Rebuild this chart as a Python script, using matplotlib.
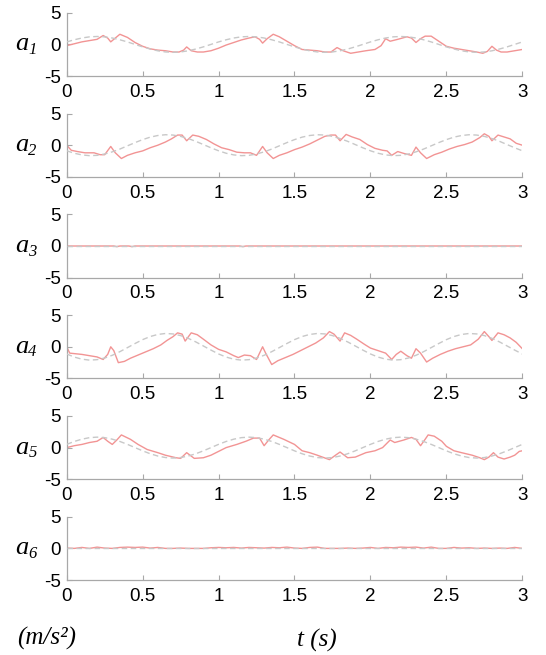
"""
Six acceleration components a1..a6 over t = 0..3 s:
measured signal (light red) vs reference (grey dashed).
"""

import matplotlib

matplotlib.use("Agg")
import matplotlib.pyplot as plt
import numpy as np

plt.rcParams["axes.unicode_minus"] = False
plt.rcParams["font.family"] = ["Liberation Sans", "DejaVu Sans"]

# ---------------------------------------------------------------- data
x_ticks = [0, 0.5, 1, 1.5, 2, 2.5, 3]
x_tick_labels = ["0", "0.5", "1", "1.5", "2", "2.5", "3"]
y_ticks = [-5, 0, 5]
y_tick_labels = ["-5", "0", "5"]
panel_labels = ["1", "2", "3", "4", "5", "6"]

# reference curves, sampled every 0.05 s
ref_t = np.arange(61) * 0.05

ref_a1 = [
    0.39, 0.73, 1.01, 1.19, 1.25, 1.19, 1.01, 0.73, 0.39, 0.0,
    -0.39, -0.73, -1.01, -1.19, -1.25, -1.19, -1.01, -0.73, -0.39, 0.0,
    0.39, 0.73, 1.01, 1.19, 1.25, 1.19, 1.01, 0.73, 0.39, 0.0,
    -0.39, -0.73, -1.01, -1.19, -1.25, -1.19, -1.01, -0.73, -0.39, 0.0,
    0.39, 0.73, 1.01, 1.19, 1.25, 1.19, 1.01, 0.73, 0.39, 0.0,
    -0.39, -0.73, -1.01, -1.19, -1.25, -1.19, -1.01, -0.73, -0.39, 0.0,
    0.39,
]
ref_a2 = [
    -0.88, -1.27, -1.53, -1.65, -1.60, -1.39, -1.05, -0.61, -0.10, 0.41,
    0.88, 1.27, 1.53, 1.65, 1.60, 1.39, 1.05, 0.61, 0.10, -0.41,
    -0.88, -1.27, -1.53, -1.65, -1.60, -1.39, -1.05, -0.61, -0.10, 0.41,
    0.88, 1.27, 1.53, 1.65, 1.60, 1.39, 1.05, 0.61, 0.10, -0.41,
    -0.88, -1.27, -1.53, -1.65, -1.60, -1.39, -1.05, -0.61, -0.10, 0.41,
    0.88, 1.27, 1.53, 1.65, 1.60, 1.39, 1.05, 0.61, 0.10, -0.41,
    -0.88,
]
ref_a3 = [0.0] * 61
ref_a4 = [
    -1.13, -1.62, -1.95, -2.10, -2.03, -1.77, -1.34, -0.77, -0.13, 0.52,
    1.13, 1.62, 1.95, 2.10, 2.03, 1.77, 1.34, 0.77, 0.13, -0.52,
    -1.13, -1.62, -1.95, -2.10, -2.03, -1.77, -1.34, -0.77, -0.13, 0.52,
    1.13, 1.62, 1.95, 2.10, 2.03, 1.77, 1.34, 0.77, 0.13, -0.52,
    -1.13, -1.62, -1.95, -2.10, -2.03, -1.77, -1.34, -0.77, -0.13, 0.52,
    1.13, 1.62, 1.95, 2.10, 2.03, 1.77, 1.34, 0.77, 0.13, -0.52,
    -1.13,
]
ref_a5 = [
    0.51, 0.97, 1.33, 1.57, 1.65, 1.57, 1.33, 0.97, 0.51, 0.0,
    -0.51, -0.97, -1.33, -1.57, -1.65, -1.57, -1.33, -0.97, -0.51, 0.0,
    0.51, 0.97, 1.33, 1.57, 1.65, 1.57, 1.33, 0.97, 0.51, 0.0,
    -0.51, -0.97, -1.33, -1.57, -1.65, -1.57, -1.33, -0.97, -0.51, 0.0,
    0.51, 0.97, 1.33, 1.57, 1.65, 1.57, 1.33, 0.97, 0.51, 0.0,
    -0.51, -0.97, -1.33, -1.57, -1.65, -1.57, -1.33, -0.97, -0.51, 0.0,
    0.51,
]
ref_a6 = [0.0] * 61

# measured signals, read at the break points of each trace
t_a1 = [
    0, 0.05, 0.1, 0.15, 0.2, 0.24, 0.27, 0.29, 0.32, 0.35,
    0.4, 0.45, 0.5, 0.55, 0.6, 0.65, 0.7, 0.74, 0.77, 0.79,
    0.82, 0.86, 0.9, 0.95, 1.0, 1.05, 1.1, 1.15, 1.2, 1.24,
    1.27, 1.29, 1.32, 1.36, 1.4, 1.45, 1.5, 1.55, 1.6, 1.65,
    1.7, 1.74, 1.78, 1.82, 1.87, 1.92, 1.97, 2.03, 2.07, 2.1,
    2.13, 2.18, 2.24, 2.27, 2.3, 2.33, 2.36, 2.4, 2.45, 2.5,
    2.55, 2.6, 2.65, 2.7, 2.74, 2.77, 2.8, 2.83, 2.86, 2.9,
    2.95, 3.0,
]
v_a1 = [
    -0.2, 0.1, 0.4, 0.6, 0.8, 1.4, 1.0, 0.4, 1.0, 1.6,
    1.1, 0.3, -0.3, -0.7, -0.9, -1.0, -1.2, -1.2, -0.9, -0.4,
    -1.0, -1.2, -1.2, -1.0, -0.6, -0.1, 0.3, 0.7, 1.0, 1.2,
    0.8, 0.2, 0.9, 1.6, 1.2, 0.5, -0.2, -0.8, -0.9, -1.0,
    -1.2, -1.2, -0.5, -1.0, -1.4, -1.2, -1.0, -0.8, -0.2, 0.9,
    0.5, 0.8, 1.2, 1.0, 0.3, 0.9, 1.3, 1.3, 0.5, -0.3,
    -0.6, -0.8, -1.0, -1.2, -1.4, -1.1, -0.3, -0.9, -1.2, -1.2,
    -1.0, -0.8,
]

t_a2 = [
    0, 0.03, 0.07, 0.12, 0.18, 0.22, 0.25, 0.29, 0.32, 0.36,
    0.4, 0.45, 0.5, 0.55, 0.6, 0.65, 0.69, 0.73, 0.76, 0.79,
    0.83, 0.87, 0.92, 0.97, 1.02, 1.07, 1.12, 1.17, 1.21, 1.25,
    1.29, 1.32, 1.36, 1.4, 1.45, 1.5, 1.55, 1.6, 1.65, 1.7,
    1.74, 1.77, 1.8, 1.84, 1.88, 1.93, 1.98, 2.03, 2.08, 2.11,
    2.14, 2.18, 2.22, 2.27, 2.3, 2.33, 2.37, 2.42, 2.47, 2.52,
    2.57, 2.62, 2.67, 2.72, 2.75, 2.78, 2.8, 2.84, 2.88, 2.92,
    2.96, 3.0,
]
v_a2 = [
    0.0, -0.8, -1.0, -1.2, -1.2, -1.5, -1.5, -0.2, -1.2, -2.1,
    -1.6, -1.2, -0.9, -0.4, 0.0, 0.5, 1.0, 1.6, 1.6, 0.7,
    1.6, 1.4, 0.9, 0.2, -0.4, -0.7, -1.1, -1.2, -1.2, -1.6,
    -0.2, -1.2, -2.1, -1.6, -1.2, -0.7, -0.3, 0.2, 0.8, 1.4,
    1.6, 1.6, 0.7, 1.7, 1.3, 0.9, 0.1, -0.5, -0.8, -0.9,
    -1.6, -1.0, -1.3, -1.6, -0.3, -1.2, -2.1, -1.5, -1.1, -0.6,
    -0.2, 0.1, 0.5, 1.2, 1.8, 1.4, 0.7, 1.6, 1.3, 1.0,
    0.3, 0.0,
]

t_a3 = [0, 0.31, 0.33, 0.35, 0.41, 0.43, 0.45, 1.14, 1.16, 1.18, 3.0]
v_a3 = [0.0, 0.0, -0.1, 0.0, 0.0, -0.1, 0.0, 0.0, -0.1, 0.0, 0.0]

t_a4 = [
    0, 0.02, 0.06, 0.1, 0.15, 0.2, 0.24, 0.27, 0.29, 0.31,
    0.34, 0.38, 0.42, 0.47, 0.52, 0.57, 0.62, 0.66, 0.7, 0.73,
    0.76, 0.78, 0.82, 0.86, 0.9, 0.95, 1.0, 1.05, 1.1, 1.13,
    1.17, 1.21, 1.25, 1.29, 1.31, 1.35, 1.39, 1.44, 1.49, 1.54,
    1.59, 1.64, 1.69, 1.73, 1.76, 1.8, 1.83, 1.87, 1.91, 1.96,
    2.0, 2.05, 2.1, 2.14, 2.17, 2.2, 2.24, 2.27, 2.3, 2.33,
    2.37, 2.41, 2.46, 2.51, 2.56, 2.61, 2.66, 2.71, 2.75, 2.78,
    2.8, 2.84, 2.88, 2.92, 2.96, 3.0,
]
v_a4 = [
    0.0, -1.0, -1.1, -1.2, -1.4, -1.6, -2.0, -1.2, 0.0, -0.6,
    -2.5, -2.3, -1.8, -1.3, -0.8, -0.3, 0.3, 1.0, 1.6, 2.2,
    2.0, 0.9, 2.2, 1.9, 1.2, 0.3, -0.4, -0.8, -1.4, -1.7,
    -1.3, -1.4, -2.0, 0.0, -1.0, -2.8, -2.2, -1.7, -1.2, -0.6,
    0.0, 0.6, 1.4, 2.4, 2.0, 0.9, 2.2, 1.8, 1.2, 0.4,
    -0.2, -0.6, -1.0, -2.0, -1.2, -0.7, -1.4, -1.8, -0.3, -1.0,
    -2.4, -1.8, -1.2, -0.7, -0.3, 0.0, 0.3, 1.2, 2.4, 1.6,
    1.0, 2.2, 1.9, 1.4, 0.7, -0.3,
]

t_a5 = [
    0, 0.05, 0.1, 0.15, 0.2, 0.24, 0.27, 0.3, 0.33, 0.36,
    0.42, 0.47, 0.53, 0.6, 0.65, 0.72, 0.75, 0.79, 0.84, 0.9,
    0.95, 1.0, 1.05, 1.12, 1.18, 1.23, 1.27, 1.3, 1.33, 1.36,
    1.43, 1.5, 1.55, 1.6, 1.65, 1.73, 1.77, 1.8, 1.85, 1.9,
    1.97, 2.03, 2.08, 2.13, 2.16, 2.22, 2.27, 2.3, 2.33, 2.36,
    2.38, 2.42, 2.47, 2.5, 2.55, 2.6, 2.67, 2.72, 2.75, 2.78,
    2.81, 2.84, 2.88, 2.92, 2.95, 2.98, 3.0,
]
v_a5 = [
    0.0, 0.3, 0.5, 0.8, 1.0, 1.6, 1.0, 0.5, 1.2, 2.0,
    1.3, 0.5, -0.3, -0.8, -1.2, -1.6, -1.7, -0.8, -1.7, -1.6,
    -1.2, -0.6, 0.0, 0.5, 1.0, 1.5, 1.5, 0.3, 1.2, 2.0,
    1.3, 0.5, -0.5, -0.8, -1.2, -1.9, -1.2, -0.7, -1.6, -1.5,
    -0.8, -0.5, 0.0, 1.2, 0.8, 1.2, 1.6, 1.3, 0.3, 1.3,
    2.0, 1.8, 1.0, 0.2, -0.5, -0.8, -1.2, -1.6, -1.9, -1.5,
    -0.8, -1.5, -1.8, -1.5, -1.2, -0.6, -0.5,
]

t_a6 = ref_t
v_a6 = [
    0.05, 0.0, 0.15, 0.0, 0.2, 0.05, 0.0, 0.15, 0.2, 0.15,
    0.2, 0.05, 0.15, 0.0, 0.0, 0.05, 0.0, 0.0, 0.0, 0.1,
    0.15, 0.1, 0.15, 0.05, 0.15, 0.1, 0.05, 0.15, 0.1, 0.2,
    0.05, 0.0, 0.15, 0.2, 0.0, 0.0, 0.0, 0.05, 0.0, 0.05,
    0.15, 0.0, 0.15, 0.1, 0.2, 0.15, 0.2, 0.05, 0.2, 0.0,
    0.0, 0.15, 0.05, 0.1, 0.0, 0.05, 0.0, 0.05, 0.0, 0.15,
    0.0,
]

signals = [
    (t_a1, v_a1, ref_a1),
    (t_a2, v_a2, ref_a2),
    (t_a3, v_a3, ref_a3),
    (t_a4, v_a4, ref_a4),
    (t_a5, v_a5, ref_a5),
    (t_a6, v_a6, ref_a6),
]

# ---------------------------------------------------------------- style
RED = "#f29494"
GREY = "#c8c8c8"
SPINE = "#a8a8a8"
SERIF = "Liberation Serif"

W, H = 546, 655
LEFT_PX, RIGHT_PX = 66.7, 522.3
TOP0_PX, STEP_PX, PANEL_PX = 12.7, 100.8, 63.4

fig = plt.figure(figsize=(W / 100, H / 100), dpi=100)

for i, (t, v, ref) in enumerate(signals):
    top = TOP0_PX + i * STEP_PX
    ax = fig.add_axes([
        LEFT_PX / W,
        1 - (top + PANEL_PX) / H,
        (RIGHT_PX - LEFT_PX) / W,
        PANEL_PX / H,
    ])

    ax.plot(t, v, color=RED, lw=1.0, zorder=2)
    ax.plot(ref_t, ref, color=GREY, lw=1.0, dashes=(4, 2.5), zorder=3)

    ax.set_xlim(0, 3)
    ax.set_ylim(-5, 5)
    ax.set_xticks(x_ticks)
    ax.set_xticklabels(x_tick_labels)
    ax.set_yticks(y_ticks)
    ax.set_yticklabels(y_tick_labels)

    for side in ("top", "right"):
        ax.spines[side].set_visible(False)
    for side in ("left", "bottom"):
        ax.spines[side].set_color(SPINE)
        ax.spines[side].set_linewidth(0.9)

    ax.tick_params(axis="both", direction="in", length=3.6, width=0.8,
                   color=SPINE, labelsize=13.5, labelcolor="black")
    ax.tick_params(axis="x", pad=5.5)
    ax.tick_params(axis="y", pad=4)

    # panel label a_i, italic serif with italic subscript
    ax.text(-0.113, 0.5, "a", transform=ax.transAxes, ha="left",
            va="center", fontsize=19, family=SERIF, style="italic")
    ax.annotate(panel_labels[i], xy=(-0.113, 0.5), xycoords="axes fraction",
                xytext=(9.5, -4), textcoords="offset points", ha="left",
                va="center", fontsize=12, family=SERIF, style="italic")

fig.text(17 / W, 1 - 638 / H, "(m/s²)", family=SERIF,
         style="italic", fontsize=18, ha="left", va="center")
fig.text(297 / W, 1 - 640 / H, "t (s)", family=SERIF,
         style="italic", fontsize=18, ha="left", va="center")

fig.savefig("out.png", dpi=100)
plt.close(fig)
